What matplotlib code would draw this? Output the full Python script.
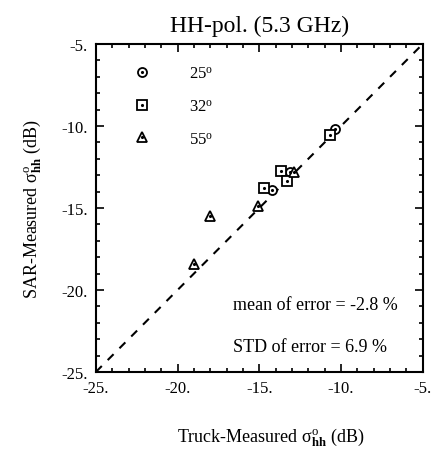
import numpy as np
import matplotlib
matplotlib.use('Agg')
import matplotlib.pyplot as plt
import matplotlib.ticker as ticker
from matplotlib.legend_handler import HandlerTuple

plt.rcParams['font.family'] = 'Liberation Serif'
plt.rcParams['mathtext.fontset'] = 'custom'
plt.rcParams['mathtext.rm'] = 'Liberation Serif'
plt.rcParams['mathtext.it'] = 'Liberation Serif:italic'
plt.rcParams['mathtext.bf'] = 'Liberation Serif:bold'

# truck-measured (x) vs SAR-measured (y), dB
truck_25 = [-10.4, -13.1, -14.2]
sar_25 = [-10.2, -12.8, -13.9]
truck_32 = [-10.7, -13.7, -13.3, -14.7]
sar_32 = [-10.55, -12.75, -13.35, -13.8]
truck_55 = [-12.9, -15.1, -18.0, -19.0]
sar_55 = [-12.8, -14.9, -15.5, -18.45]

labels = ['25$^{\\mathrm{o}}$', '32$^{\\mathrm{o}}$', '55$^{\\mathrm{o}}$']
mean_err = -2.8
std_err = 6.9

fig = plt.figure(figsize=(4.4, 4.52), dpi=100)
ax = fig.add_axes([0.218, 0.175, 0.743, 0.7256])

ax.plot([-25, -5], [-25, -5], ls=(0, (4, 4)), c='k', lw=1.5, zorder=1)

handles = []
for xs, ys, m, ms in [(truck_25, sar_25, 'o', 6.5), (truck_32, sar_32, 's', 6.5), (truck_55, sar_55, '^', 7.5)]:
    h1, = ax.plot(xs, ys, ls='none', marker=m, ms=ms, mfc='white', mec='k', mew=1.3, zorder=3)
    h2, = ax.plot(xs, ys, ls='none', marker='.', ms=2.5, c='k', zorder=4)
    handles.append((h1, h2))

ax.legend(handles, labels, handler_map={tuple: HandlerTuple(ndivide=1)},
          loc='upper left', bbox_to_anchor=(0.094, 0.933), frameon=False,
          fontsize=12, handlelength=1.85, handletextpad=1.9, labelspacing=1.0,
          borderpad=0, borderaxespad=0)

ax.text(-16.6, -20.9, 'mean of error = %.1f %%' % mean_err, fontsize=13, va='center', ha='left')
ax.text(-16.6, -23.48, 'STD of error = %.1f %%' % std_err, fontsize=13, va='center', ha='left')

ax.set_xlim(-25, -5)
ax.set_ylim(-25, -5)
ax.xaxis.set_major_locator(ticker.MultipleLocator(5))
ax.yaxis.set_major_locator(ticker.MultipleLocator(5))
ax.xaxis.set_minor_locator(ticker.MultipleLocator(1))
ax.yaxis.set_minor_locator(ticker.MultipleLocator(1))
ax.xaxis.set_major_formatter(ticker.FormatStrFormatter('%d.'))
ax.yaxis.set_major_formatter(ticker.FormatStrFormatter('%d.'))
ax.tick_params(which='both', direction='in', top=True, right=True, labelsize=12, width=1.2)
ax.tick_params(which='major', length=6, pad=6)
ax.tick_params(which='minor', length=3)
for s in ax.spines.values():
    s.set_linewidth(1.5)

ax.set_title('HH-pol. (5.3 GHz)', fontsize=17, pad=9)
ax.set_xlabel('Truck-Measured σ$^{\\mathrm{o}}_{\\mathbf{hh}}$ (dB)', fontsize=13, labelpad=18)
ax.set_ylabel('SAR-Measured σ$^{\\mathrm{o}}_{\\mathbf{hh}}$ (dB)', fontsize=13, labelpad=12)
ax.xaxis.set_label_coords(0.535, -0.165)

fig.savefig('out.png', dpi=100)
